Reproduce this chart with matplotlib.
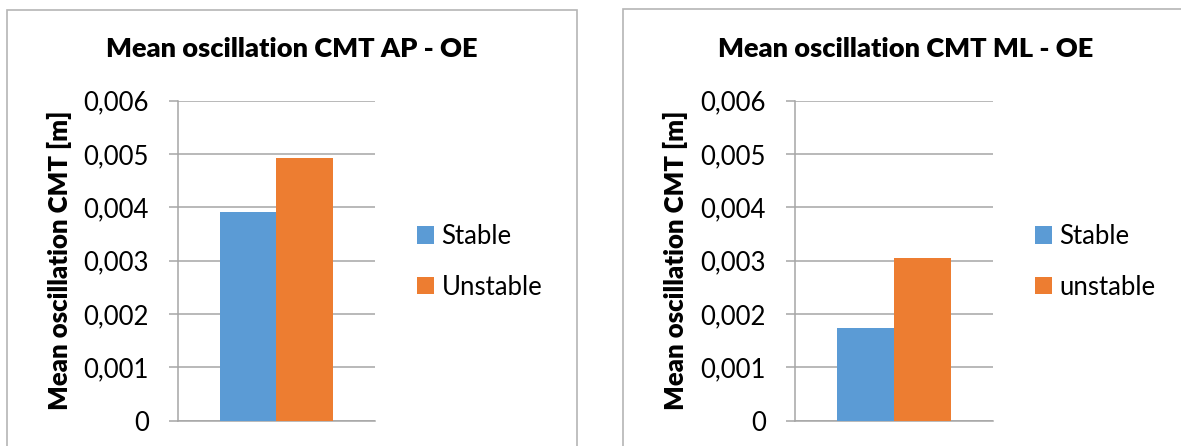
import matplotlib.pyplot as plt
from matplotlib.patches import Rectangle

# chart data
titles = ["Mean oscillation CMT AP - OE", "Mean oscillation CMT ML - OE"]
ylabel = "Mean oscillation CMT [m]"
series_ap = ["Stable", "Unstable"]
series_ml = ["Stable", "unstable"]
values_ap = [0.00391, 0.00493]
values_ml = [0.00174, 0.00305]
yticks = [0, 0.001, 0.002, 0.003, 0.004, 0.005, 0.006]
yticklabels = ["0", "0,001", "0,002", "0,003", "0,004", "0,005", "0,006"]

colors = ["#5B9BD5", "#ED7D31"]
grid_c = "#a6a6a6"
W, H = 1181, 446

plt.rcParams['font.family'] = ['Lato', 'DejaVu Sans']
fig = plt.figure(figsize=(W / 100, H / 100), dpi=100)


def fx(px):
    return px / W


def fy(py):
    return 1 - py / H


# chart frames (Excel style border)
for x0, x1, y0 in [(7, 577, 10), (623, 1200, 9)]:
    fig.patches.append(Rectangle((fx(x0), fy(H + 20)), fx(x1 - x0), fy(y0) - fy(H + 20),
                                 transform=fig.transFigure, fill=False,
                                 edgecolor="#b5b5b5", lw=1.2))

panels = [
    dict(ax_x=(178, 374.5), title_x=291.5, ylab_x=59, leg_x=417,
         names=series_ap, vals=values_ap, title=titles[0]),
    dict(ax_x=(795, 992.5), title_x=906, ylab_x=675, leg_x=1035,
         names=series_ml, vals=values_ml, title=titles[1]),
]
y_top, y_bot = 100.7, 420.7

for p in panels:
    x0, x1 = p["ax_x"]
    ax = fig.add_axes([fx(x0), fy(y_bot), fx(x1 - x0), fy(y_top) - fy(y_bot)])
    bw = 0.288
    for i, (name, v) in enumerate(zip(p["names"], p["vals"])):
        ax.bar((i - 0.5) * bw, v, width=bw, color=colors[i], label=name, zorder=3)
    ax.set_xlim(-0.5, 0.5)
    ax.set_ylim(0, 0.006)
    ax.set_yticks(yticks)
    ax.set_yticklabels(yticklabels, fontsize=18.5, color="#000000")
    ax.set_xticks([])
    ax.yaxis.grid(True, color=grid_c, lw=1.1)
    ax.set_axisbelow(True)
    for s in ["top", "right"]:
        ax.spines[s].set_visible(False)
    for s in ["left", "bottom"]:
        ax.spines[s].set_color(grid_c)
        ax.spines[s].set_linewidth(1.1)
    ax.tick_params(axis="y", length=6.6, width=1.1, color=grid_c, pad=14.4)

    fig.text(fx(p["title_x"]), fy(57), p["title"], fontsize=19.5, fontweight="heavy",
             ha="center", va="baseline")
    fig.text(fx(p["ylab_x"]), fy(260), ylabel, fontsize=18.5, fontweight="heavy",
             rotation=90, ha="center", va="center")
    ax.legend(loc="upper left", bbox_to_anchor=(fx(p["leg_x"]), fy(224)),
              bbox_transform=fig.transFigure, frameon=False, fontsize=18.5,
              handlelength=0.65, handleheight=0.65, handletextpad=0.3,
              labelspacing=1.0, borderpad=0, borderaxespad=0)

fig.savefig("out.png", dpi=100)
